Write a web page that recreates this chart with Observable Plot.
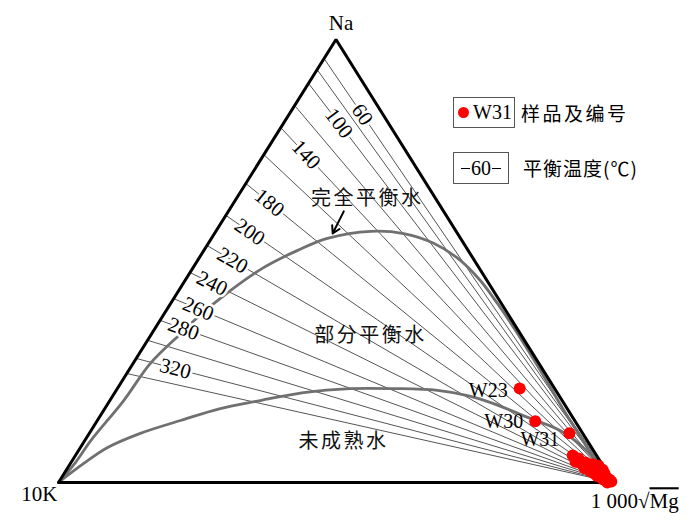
<!DOCTYPE html>
<html><head><meta charset="utf-8">
<script src="https://cdn.jsdelivr.net/npm/d3@7"></script>
<script src="https://cdn.jsdelivr.net/npm/@observablehq/plot@0.6"></script>
<style>
body{margin:0;background:#fff;}
#wrap{position:relative;width:700px;height:524px;font-family:'Liberation Serif','Noto Sans CJK SC',serif;}
.box{position:absolute;border:1px solid #555;box-sizing:border-box;display:flex;align-items:center;font-size:20px;color:#000;}
.cjk{position:absolute;font-family:'Noto Sans CJK SC',sans-serif;font-size:19px;letter-spacing:2.5px;line-height:1;color:#000;}
.dash{display:inline-block;width:9px;height:0;border-top:1px solid #000;margin:0 1px;}
</style></head><body><div id="wrap"></div>
<script>
// Na–K–Mg ternary diagram (Giggenbach type). Compositions in % of the apices Na, 10K, 1000√Mg.
const isoTemps = [60,80,100,120,140,160,180,200,220,240,260,280,300,320,340];
const isoNa    = [95.7,93.2,90.1,85.1,80.1,74.0,67.5,60.3,53.5,47.4,41.5,36.6,32.1,28.0,24.6]; // Na% where each isotherm meets the Na–10K side
const isoLabelTemps = [60,100,140,180,200,220,240,260,280,320];
const isoLabelAt    = [0.132,0.100,0.076,0.064,0.062,0.063,0.052,0.056,0.052,0.082]; // fraction along the isotherm

// full-equilibrium curve
const fullNa = [0,4.5,9.5,18.5,26.9,33.6,37.2,43.3,48.5,52.4,55.1,56.7,56.2,54.0,50.1,45.6,40.4,34.3,28.2,22.3,16.7,11.3,6.1,0];
const fullMg = [0,0.8,1.1,2.5,3.1,5.2,6.4,9.3,12.7,16.9,20.9,27.9,34.1,40.6,47.4,53.2,58.9,65.2,71.3,77.1,82.5,87.9,93.2,100];
// immature-water boundary
const immNa = [0,4.3,7.9,11.1,14.0,16.7,18.5,20.3,21.2,21.2,20.8,19.6,17.8,14.7,11.7,7.9,4.5,0];
const immMg = [0,2.4,4.9,9.2,15.0,20.8,27.1,34.0,42.0,49.8,57.9,63.9,69.5,77.2,84.6,90.6,94.8,100];

// labelled samples
const sampleIds = ["W23","W30","W31"];
const sampleNa  = [21.2,13.8,11.1];
const sampleMg  = [72.5,79.0,86.5];
// unlabelled samples near the Mg apex
const clusterNa = [6.1,4.7,4.3,4.5,3.4,4.1,3.2,3.8,2.5,2.0,2.5,2.9,1.4,1.6,2.0,1.1,0.7,0.7,0.2,0,3.2,5.4];
const clusterMg = [89.6,90.8,92.0,92.7,93.8,94.2,95.2,95.4,94.6,95.6,96.2,96.6,96.4,97.0,97.4,98.2,97.8,98.9,99.5,98.9,93.2,91.0];

// region annotations
const regionNames = ["完全平衡水","部分平衡水","未成熟水"];
const regionNa = [64.1,33.2,9.3];
const regionMg = [23.6,39.6,46.7];
const arrowFrom = {na:61.2, mg:20.8};
const arrowTo   = {na:56.2, mg:21.3};

const S3 = Math.sqrt(3)/2;
const px = (na, mg) => mg/100 + na/200;
const py = (na) => na/100*S3;

const W = 700, H = 524, mL = 58, mR = 87, mT = 39, mB = 42;
const xPix = W - mL - mR, yPix = H - mT - mB;

const triangle = [{na:0,mg:0},{na:0,mg:100},{na:100,mg:0},{na:0,mg:0}].map(d => ({x:px(d.na,d.mg), y:py(d.na)}));
const isoLines = isoTemps.map((t,i) => ({t, x1:px(isoNa[i],0), y1:py(isoNa[i]), x2:1, y2:0}));
const isoLabels = isoLabelTemps.map((t,i) => {
  const L = isoLines.find(d => d.t === t), a = isoLabelAt[i];
  const ang = Math.atan2((L.y1 - L.y2)/S3*yPix, (L.x2 - L.x1)*xPix) * 180/Math.PI;
  return {t, x: L.x1 + a*(L.x2-L.x1), y: L.y1 + a*(L.y2-L.y1), rot: ang};
});
const full = fullNa.map((n,i) => ({x:px(n,fullMg[i]), y:py(n)}));
const imm = immNa.map((n,i) => ({x:px(n,immMg[i]), y:py(n)}));
const samples = sampleIds.map((id,i) => ({id, x:px(sampleNa[i],sampleMg[i]), y:py(sampleNa[i])}));
const cluster = clusterNa.map((n,i) => ({x:px(n,clusterMg[i]), y:py(n)}));
const regions = regionNames.map((s,i) => ({s, x:px(regionNa[i],regionMg[i]), y:py(regionNa[i])}));
const arrow = [{x1:px(arrowFrom.na,arrowFrom.mg), y1:py(arrowFrom.na), x2:px(arrowTo.na,arrowTo.mg), y2:py(arrowTo.na)}];
const apexNa = [{s:"Na", x:0.5, y:S3}];
const apexK  = [{s:"10K", x:0, y:0}];
const apexMg = [{x:1, y:0}];

const serif = "'Liberation Serif','Times New Roman',serif";
const cjk = "'Noto Sans CJK SC',sans-serif";

const chart = Plot.plot({
  width: W, height: H,
  marginLeft: mL, marginRight: mR, marginTop: mT, marginBottom: mB,
  x: {domain:[0,1], axis:null},
  y: {domain:[0,S3], axis:null},
  style: {fontFamily: serif, fontSize: "20px", background: "white", color: "black", overflow: "visible"},
  marks: [
    Plot.link(isoLines, {x1:"x1", y1:"y1", x2:"x2", y2:"y2", stroke:"#555", strokeWidth:1}),
    Plot.line(full, {x:"x", y:"y", stroke:"#707070", strokeWidth:2.8, curve:"catmull-rom"}),
    Plot.line(imm,  {x:"x", y:"y", stroke:"#707070", strokeWidth:2.8, curve:"catmull-rom"}),
    Plot.text(isoLabels, {x:"x", y:"y", text: d => String(d.t), rotate:"rot", fontSize:21, fill:"black", stroke:"white", strokeWidth:5, fontFamily: serif}),
    Plot.line(triangle, {x:"x", y:"y", stroke:"black", strokeWidth:3, strokeLinejoin:"miter"}),
    Plot.text(regions, {x:"x", y:"y", text:"s", fontSize:20, fontFamily: cjk, fill:"#111"}),
    Plot.arrow(arrow, {x1:"x1", y1:"y1", x2:"x2", y2:"y2", stroke:"black", strokeWidth:2, headLength:12}),
    Plot.dot(cluster, {x:"x", y:"y", r:6, fill:"#f00"}),
    Plot.dot(samples, {x:"x", y:"y", r:6, fill:"#f00"}),
    Plot.text(samples.filter(d=>d.id==="W23"), {x:"x", y:"y", text:"id", textAnchor:"end", dx:-12, dy:2, fontSize:20}),
    Plot.text(samples.filter(d=>d.id==="W30"), {x:"x", y:"y", text:"id", textAnchor:"end", dx:-12, dy:0, fontSize:20}),
    Plot.text(samples.filter(d=>d.id==="W31"), {x:"x", y:"y", text:"id", textAnchor:"end", dx:-10, dy:6, fontSize:20}),
    Plot.text(apexNa, {x:"x", y:"y", text:"s", dx:5, dy:-16, fontSize:21}),
    Plot.text(apexK, {x:"x", y:"y", text:"s", textAnchor:"end", dx:-1, dy:12, fontSize:21}),
    Plot.text(apexMg, {x:"x", y:"y", text: () => "1 000√", textAnchor:"end", dx:36, dy:19, fontSize:21}),
    Plot.text(apexMg, {x:"x", y:"y", text: () => "Mg", textAnchor:"start", dx:36, dy:19, fontSize:21})
  ]
});

chart.querySelectorAll("text").forEach(t => {
  if (t.textContent === "Mg") t.style.textDecoration = "overline";
  if (regionNames.includes(t.textContent)) t.setAttribute("letter-spacing", "2.5");
});

const wrap = document.getElementById("wrap");
wrap.appendChild(chart);

// legend
const legend = document.createElement("div");
legend.innerHTML = `
  <div class="box" style="left:453px;top:97px;width:62px;height:31px;">
    <span style="display:inline-block;width:11px;height:11px;border-radius:50%;background:#f00;margin-left:4px;margin-right:4px;"></span>
    <span style="font-family:${serif};font-size:20px;">W31</span>
  </div>
  <div class="cjk" style="left:521px;top:103px;">样品及编号</div>
  <div class="box" style="left:453px;top:152px;width:56px;height:32px;justify-content:center;">
    <span class="dash"></span><span style="font-family:${serif};font-size:20px;">60</span><span class="dash"></span>
  </div>
  <div class="cjk" style="left:523px;top:158px;letter-spacing:1px;">平衡温度(℃)</div>`;
wrap.appendChild(legend);
</script>
</body></html>
